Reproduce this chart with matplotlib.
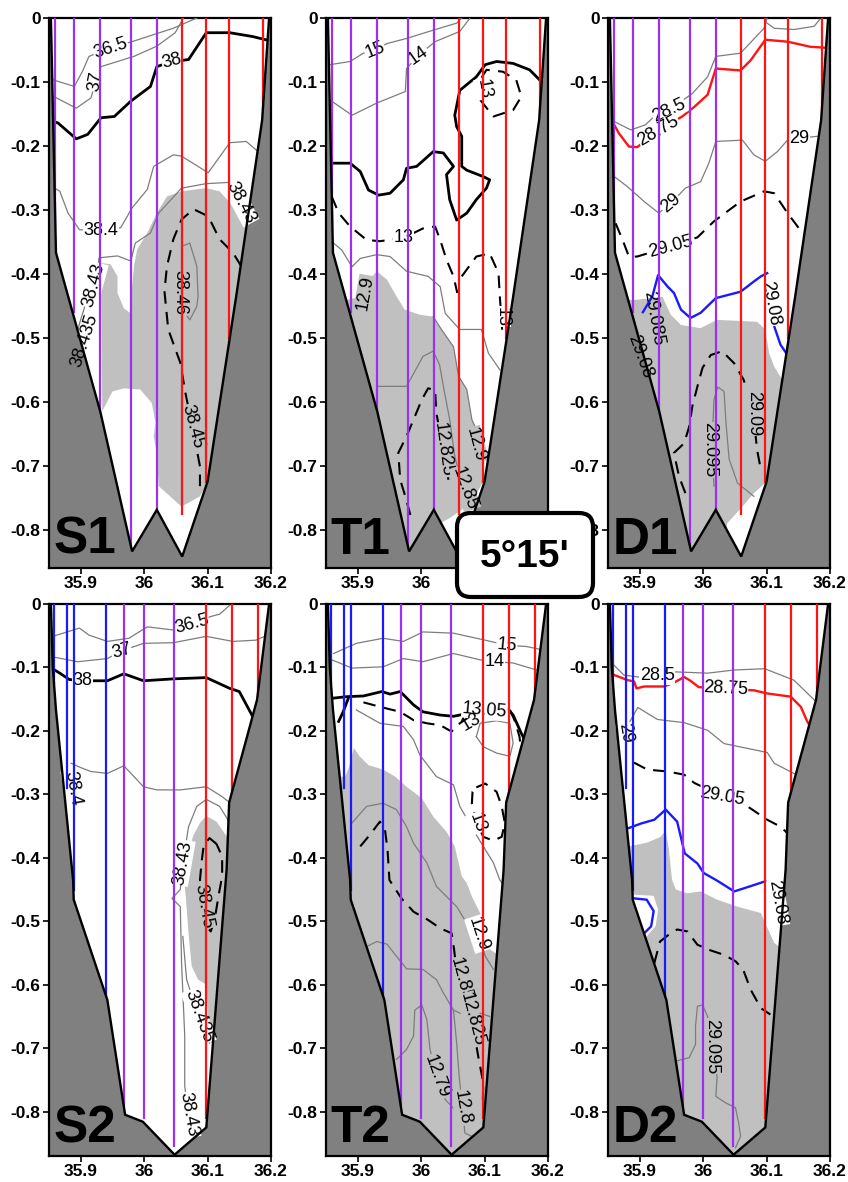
import matplotlib
matplotlib.use("Agg")
import matplotlib.pyplot as plt
from matplotlib.patches import Polygon, FancyBboxPatch
from matplotlib.transforms import IdentityTransform

plt.rcParams['font.family'] = ['Liberation Sans', 'DejaVu Sans']

DARK = '#808080'
LIGHT = '#c0c0c0'
COLS = {'purple': '#9b30f0', 'red': '#ff1414', 'blue': '#1a1aff'}

# ---------------- bathymetry (lon, depth km) ----------------
wall_1 = [(35.853, 0.0), (35.861, -0.367), (35.931, -0.616), (35.981, -0.834), (36.020, -0.769),
          (36.060, -0.842), (36.100, -0.725), (36.145, -0.436), (36.186, -0.160), (36.197, 0.0)]
wall_2 = [(35.853, 0.0), (35.856, -0.100), (35.861, -0.167), (35.888, -0.435), (35.889, -0.466),
          (35.942, -0.624), (35.970, -0.805), (35.998, -0.816), (36.048, -0.868), (36.098, -0.825),
          (36.130, -0.419), (36.134, -0.313), (36.178, -0.151), (36.197, 0.0)]

# ---------------- stations ----------------
stn1_x = [35.860, 35.890, 35.931, 35.979, 36.020, 36.059, 36.098, 36.133, 36.188]
stn1_bot = [-0.33, -0.46, -0.615, -0.834, -0.77, -0.775, -0.725, -0.50, -0.15]
stn1_col = ['purple'] * 5 + ['red'] * 4
stn2_x = [35.858, 35.879, 35.889, 35.940, 35.969, 36.000, 36.047, 36.098, 36.138, 36.180]
stn2_bot = [-0.125, -0.29, -0.45, -0.62, -0.79, -0.81, -0.855, -0.81, -0.31, -0.15]
stn2_col = ['blue'] * 4 + ['purple'] * 3 + ['red'] * 3

# ---------------- S1 salinity ----------------
s1_365 = [(35.854, -0.096), (35.890, -0.107), (35.903, -0.083), (35.913, -0.060), (35.947, -0.047),
          (35.984, -0.036), (36.046, -0.016), (36.083, 0.0)]
s1_37 = [(35.856, -0.122), (35.893, -0.141), (35.916, -0.125), (35.924, -0.099), (35.932, -0.076),
         (35.984, -0.060), (36.020, -0.044), (36.049, -0.023), (36.062, 0.0)]
s1_38 = [(35.854, -0.161), (35.864, -0.164), (35.893, -0.189), (35.911, -0.182), (35.932, -0.156),
         (35.953, -0.154), (35.979, -0.130), (36.010, -0.107), (36.020, -0.076), (36.044, -0.068),
         (36.070, -0.065), (36.098, -0.023), (36.135, -0.023), (36.171, -0.029), (36.200, -0.036)]
s1_384 = [(35.859, -0.266), (35.867, -0.271), (35.880, -0.305), (35.898, -0.331), (35.932, -0.333),
          (35.963, -0.328), (35.981, -0.297), (36.005, -0.268), (36.015, -0.232), (36.046, -0.214),
          (36.059, -0.216), (36.101, -0.242), (36.135, -0.195), (36.161, -0.193), (36.182, -0.211)]
s1_3843 = [(35.895, -0.488), (35.911, -0.436), (35.924, -0.409), (35.929, -0.375), (35.958, -0.372),
           (35.979, -0.380), (35.986, -0.352), (36.010, -0.336), (36.023, -0.305), (36.059, -0.266),
           (36.098, -0.259), (36.135, -0.257), (36.156, -0.294), (36.171, -0.326)]
s1_3845 = [(36.153, -0.388), (36.140, -0.367), (36.119, -0.346), (36.101, -0.310), (36.078, -0.299),
           (36.059, -0.315), (36.046, -0.346), (36.036, -0.388), (36.032, -0.427), (36.038, -0.487),
           (36.057, -0.539), (36.065, -0.586), (36.076, -0.639), (36.088, -0.701), (36.088, -0.732)]
s1_3846 = [(36.059, -0.357), (36.072, -0.352), (36.083, -0.388), (36.085, -0.435), (36.083, -0.451),
           (36.072, -0.472), (36.064, -0.461), (36.061, -0.425), (36.059, -0.398), (36.059, -0.357)]
s1_gray = [(35.932, -0.383), (35.947, -0.385), (35.958, -0.404), (35.958, -0.430), (35.968, -0.454),
           (35.979, -0.462), (35.981, -0.420), (35.984, -0.388), (35.989, -0.362), (36.005, -0.336),
           (36.020, -0.305), (36.036, -0.279), (36.059, -0.271), (36.098, -0.266), (36.119, -0.271),
           (36.140, -0.294), (36.163, -0.331), (36.25, -0.331), (36.25, -0.72), (36.101, -0.724),
           (36.088, -0.748), (36.059, -0.764), (36.041, -0.748), (36.023, -0.732), (36.020, -0.680),
           (36.015, -0.654), (36.018, -0.633), (36.012, -0.602), (35.994, -0.581), (35.968, -0.579),
           (35.950, -0.584), (35.934, -0.615)]
s1_labels = [("36.5", 35.947, -0.047, 18, 'w'), ("37", 35.924, -0.099, 80, 'w'),
             ("38", 36.044, -0.068, 15, 'w'), ("38.4", 35.932, -0.333, 0, 'w'),
             ("38.43", 36.152, -0.289, -62, 'w'), ("38.43", 35.921, -0.418, 75, 'w'),
             ("38.435", 35.906, -0.505, 72, 'none'), ("38.46", 36.057, -0.430, -90, 'g'),
             ("38.45", 36.076, -0.639, -75, 'g')]

# ---------------- T1 temperature ----------------
t1_15 = [(35.856, -0.073), (35.888, -0.068), (35.909, -0.055), (35.927, -0.050), (35.946, -0.040),
         (35.977, -0.032), (36.019, -0.019), (36.056, -0.008), (36.064, 0.0)]
t1_14 = [(35.856, -0.128), (35.891, -0.152), (35.930, -0.133), (35.975, -0.115), (35.977, -0.079),
         (35.996, -0.058), (36.022, -0.037), (36.061, -0.021), (36.077, 0.0)]
t1_1305 = [(35.856, -0.227), (35.888, -0.227), (35.904, -0.240), (35.917, -0.269), (35.933, -0.277),
           (35.951, -0.274), (35.972, -0.253), (35.977, -0.235), (35.993, -0.232), (36.019, -0.209),
           (36.035, -0.211), (36.051, -0.232), (36.040, -0.245), (36.045, -0.284), (36.056, -0.316),
           (36.072, -0.305), (36.087, -0.284), (36.103, -0.266), (36.108, -0.253), (36.098, -0.248),
           (36.072, -0.238), (36.064, -0.232), (36.064, -0.185), (36.056, -0.170), (36.053, -0.152),
           (36.061, -0.113), (36.087, -0.092), (36.101, -0.073), (36.119, -0.068), (36.145, -0.071),
           (36.171, -0.081), (36.187, -0.097), (36.192, -0.107)]
t1_13a = [(36.093, -0.128), (36.114, -0.154), (36.145, -0.144), (36.158, -0.123), (36.150, -0.097),
          (36.129, -0.084), (36.103, -0.081), (36.093, -0.097), (36.093, -0.128)]
t1_13b = [(35.859, -0.279), (35.870, -0.305), (35.888, -0.326), (35.914, -0.347), (35.935, -0.349),
          (35.972, -0.344), (36.003, -0.329), (36.022, -0.326), (36.030, -0.347), (36.040, -0.378),
          (36.051, -0.404), (36.057, -0.430)]
t1_13c = [(36.064, -0.404), (36.087, -0.373), (36.108, -0.368), (36.122, -0.399), (36.124, -0.435),
          (36.126, -0.462), (36.128, -0.493)]
t1_129 = [(35.862, -0.352), (35.875, -0.363), (35.891, -0.389), (35.904, -0.376), (35.930, -0.370),
          (35.951, -0.373), (35.977, -0.396), (36.011, -0.404), (36.030, -0.420), (36.038, -0.462),
          (36.061, -0.487), (36.095, -0.487), (36.106, -0.524), (36.124, -0.550)]
t1_129b = [(36.019, -0.467), (36.032, -0.487), (36.051, -0.514), (36.059, -0.560), (36.072, -0.581),
           (36.080, -0.628), (36.096, -0.664), (36.099, -0.722)]
t1_1285 = [(35.930, -0.576), (35.977, -0.576), (36.003, -0.529), (36.019, -0.521), (36.029, -0.542),
           (36.036, -0.581), (36.045, -0.628), (36.053, -0.685), (36.064, -0.727)]
t1_12825 = [(35.983, -0.777), (35.975, -0.748), (35.967, -0.722), (35.964, -0.680), (35.977, -0.654),
            (35.988, -0.628), (36.001, -0.597), (36.011, -0.579), (36.022, -0.582), (36.024, -0.618),
            (36.035, -0.675), (36.043, -0.722)]
t1_gray = [(35.84, -0.45), (35.909, -0.435), (35.919, -0.409), (35.930, -0.396), (35.946, -0.409),
           (35.961, -0.435), (35.974, -0.456), (35.998, -0.464), (36.019, -0.467), (36.032, -0.487),
           (36.051, -0.514), (36.059, -0.560), (36.072, -0.581), (36.080, -0.628), (36.096, -0.664),
           (36.099, -0.722), (36.088, -0.743), (36.064, -0.769), (36.045, -0.782), (36.030, -0.790),
           (36.02, -0.95), (35.84, -0.95)]
t1_labels = [("15", 35.927, -0.050, 22, 'w'), ("14", 35.996, -0.058, 35, 'w'),
             ("13", 36.099, -0.111, -80, 'w'), ("13", 35.972, -0.344, 0, 'w'),
             ("13", 36.127, -0.467, -90, 'w'), ("12.9", 35.912, -0.430, 80, 'g'),
             ("12.825", 36.035, -0.675, -82, 'g'), ("12.9", 36.086, -0.667, -75, 'g'),
             ("12.85", 36.069, -0.735, -70, 'g')]

# ---------------- D1 density ----------------
d1_top = [(36.098, -0.006), (36.112, -0.016), (36.143, -0.018), (36.175, -0.013), (36.184, -0.002)]
d1_285 = [(35.854, -0.159), (35.886, -0.175), (35.909, -0.167), (35.925, -0.152), (35.946, -0.144),
          (35.983, -0.118), (36.007, -0.092), (36.020, -0.060), (36.059, -0.055), (36.096, -0.016),
          (36.101, 0.0)]
d1_2875 = [(35.857, -0.162), (35.867, -0.180), (35.883, -0.201), (35.896, -0.202), (35.930, -0.175),
           (35.967, -0.154), (35.986, -0.139), (36.007, -0.120), (36.020, -0.079), (36.059, -0.082),
           (36.075, -0.066), (36.098, -0.034), (36.133, -0.037), (36.169, -0.045), (36.201, -0.047)]
d1_29 = [(35.860, -0.248), (35.881, -0.264), (35.907, -0.287), (35.930, -0.305), (35.949, -0.290),
         (35.972, -0.266), (35.996, -0.256), (36.009, -0.227), (36.020, -0.193), (36.062, -0.191),
         (36.080, -0.214), (36.098, -0.224), (36.117, -0.209), (36.133, -0.191), (36.151, -0.188),
         (36.180, -0.185)]
d1_2905 = [(35.862, -0.321), (35.873, -0.347), (35.883, -0.373), (35.896, -0.373), (35.949, -0.357),
           (35.991, -0.343), (36.017, -0.318), (36.059, -0.287), (36.096, -0.271), (36.112, -0.274),
           (36.133, -0.305), (36.161, -0.342), (36.185, -0.357)]
d1_2908 = [(35.905, -0.460), (35.920, -0.435), (35.929, -0.402), (35.944, -0.420), (35.954, -0.430),
           (35.965, -0.456), (35.980, -0.469), (35.996, -0.461), (36.020, -0.438), (36.059, -0.428),
           (36.080, -0.412), (36.091, -0.404), (36.101, -0.399)]
d1_2908b = [(36.112, -0.482), (36.122, -0.511), (36.133, -0.527)]
d1_2909 = [(35.972, -0.743), (35.962, -0.717), (35.954, -0.680), (35.970, -0.665), (35.978, -0.639),
           (35.983, -0.607), (35.991, -0.576), (35.999, -0.547), (36.012, -0.527), (36.030, -0.521),
           (36.049, -0.540), (36.064, -0.566), (36.079, -0.618), (36.085, -0.675), (36.090, -0.701)]
d1_29095 = [(36.017, -0.732), (36.014, -0.670), (36.017, -0.597), (36.023, -0.577), (36.033, -0.584),
            (36.036, -0.633), (36.041, -0.690), (36.054, -0.727), (36.080, -0.748)]
d1_gray = [(35.80, -0.441), (35.891, -0.441), (35.936, -0.436), (35.949, -0.464), (35.965, -0.480),
           (35.996, -0.485), (36.022, -0.472), (36.085, -0.475), (36.098, -0.487), (36.104, -0.524),
           (36.112, -0.545), (36.125, -0.566), (36.25, -0.566), (36.25, -0.72), (36.098, -0.727),
           (36.080, -0.743), (36.062, -0.764), (36.038, -0.790), (36.02, -0.95), (35.80, -0.95)]
d1_labels = [("28.5", 35.946, -0.144, 25, 'w'), ("28.75", 35.930, -0.177, 30, 'w'),
             ("29", 35.949, -0.290, 40, 'w'), ("29", 36.151, -0.188, 0, 'w'),
             ("29.05", 35.949, -0.357, 15, 'w'), ("29.08", 36.106, -0.446, -80, 'w'),
             ("29.085", 35.921, -0.470, -80, 'none'), ("29.08", 35.900, -0.530, -70, 'none'),
             ("29.09", 36.079, -0.618, -90, 'g'), ("29.095", 36.011, -0.675, -90, 'g')]

# ---------------- S2 salinity ----------------
s2_365 = [(35.856, -0.051), (35.898, -0.038), (35.913, -0.049), (35.942, -0.059), (35.976, -0.054),
          (36.005, -0.036), (36.046, -0.041), (36.075, -0.032), (36.104, -0.020), (36.119, -0.016),
          (36.135, -0.002)]
s2_37 = [(35.854, -0.083), (35.895, -0.091), (35.942, -0.086), (35.964, -0.074), (35.999, -0.062),
         (36.046, -0.061), (36.098, -0.051), (36.140, -0.059), (36.176, -0.057), (36.195, -0.049)]
s2_38 = [(35.854, -0.101), (35.867, -0.109), (35.882, -0.119), (35.903, -0.121), (35.926, -0.121),
         (35.942, -0.121), (35.968, -0.110), (35.999, -0.121), (36.046, -0.118), (36.098, -0.116),
         (36.135, -0.133), (36.150, -0.138), (36.171, -0.177), (36.179, -0.180)]
s2_384 = [(35.885, -0.251), (35.898, -0.257), (35.916, -0.264), (35.942, -0.267), (35.968, -0.255),
          (35.999, -0.288), (36.020, -0.293), (36.057, -0.293), (36.098, -0.288), (36.122, -0.303),
          (36.140, -0.317)]
s2_3843 = [(36.140, -0.353), (36.119, -0.319), (36.098, -0.308), (36.083, -0.319), (36.070, -0.351),
           (36.061, -0.408), (36.057, -0.450), (36.044, -0.464), (36.057, -0.477), (36.059, -0.566),
           (36.064, -0.681), (36.064, -0.760), (36.070, -0.805), (36.083, -0.849)]
s2_38435 = [(36.061, -0.524), (36.067, -0.592), (36.086, -0.650), (36.103, -0.692)]
s2_3845 = [(36.114, -0.378), (36.103, -0.369), (36.094, -0.380), (36.091, -0.403), (36.088, -0.435),
           (36.092, -0.450), (36.094, -0.476), (36.098, -0.508), (36.105, -0.516), (36.111, -0.498),
           (36.118, -0.456), (36.123, -0.429), (36.123, -0.398), (36.114, -0.378)]
s2_gray = [(36.064, -0.445), (36.070, -0.393), (36.077, -0.366), (36.088, -0.345), (36.098, -0.334),
           (36.114, -0.343), (36.130, -0.366), (36.138, -0.393), (36.25, -0.393), (36.25, -0.70),
           (36.105, -0.692), (36.101, -0.650), (36.098, -0.600), (36.085, -0.592), (36.075, -0.571),
           (36.070, -0.519), (36.066, -0.466)]
s2_labels = [("36.5", 36.075, -0.032, 15, 'w'), ("37", 35.964, -0.074, 15, 'w'),
             ("38", 35.903, -0.121, 0, 'w'), ("38.4", 35.887, -0.290, -80, 'w'),
             ("38.43", 36.061, -0.408, 80, 'w'), ("38.45", 36.094, -0.476, -80, 'g'),
             ("38.435", 36.086, -0.650, -70, 'w'), ("38.43", 36.070, -0.805, -80, 'w')]

# ---------------- T2 temperature ----------------
t2_15 = [(35.862, -0.078), (35.898, -0.062), (35.940, -0.054), (35.972, -0.059), (36.003, -0.044),
         (36.051, -0.046), (36.101, -0.057), (36.135, -0.065), (36.166, -0.067), (36.190, -0.072)]
t2_14 = [(35.859, -0.088), (35.891, -0.101), (35.940, -0.099), (35.972, -0.086), (36.003, -0.091),
         (36.051, -0.078), (36.093, -0.088), (36.116, -0.091), (36.145, -0.093), (36.182, -0.104)]
t2_1305 = [(35.856, -0.149), (35.883, -0.146), (35.909, -0.145), (35.938, -0.138), (35.951, -0.142),
           (35.967, -0.138), (35.988, -0.159), (36.003, -0.170), (36.030, -0.175), (36.051, -0.177),
           (36.095, -0.168), (36.135, -0.163), (36.145, -0.175), (36.158, -0.204), (36.166, -0.219)]
t2_1305b = [(35.885, -0.149), (35.877, -0.170), (35.870, -0.185)]
t2_13a = [(35.909, -0.155), (35.935, -0.162), (35.967, -0.170), (35.988, -0.183), (36.009, -0.188),
          (36.030, -0.191), (36.048, -0.201), (36.061, -0.188), (36.080, -0.175)]
t2_13b = [(36.140, -0.167), (36.148, -0.185), (36.155, -0.209), (36.157, -0.225)]
t2_13c = [(36.087, -0.289), (36.101, -0.283), (36.119, -0.296), (36.127, -0.319), (36.132, -0.345),
          (36.127, -0.367), (36.114, -0.373), (36.098, -0.367), (36.088, -0.345), (36.080, -0.314),
          (36.081, -0.296), (36.087, -0.289)]
t2_12825 = [(35.904, -0.382), (35.919, -0.364), (35.935, -0.343), (35.943, -0.356), (35.947, -0.387),
            (35.950, -0.435), (35.969, -0.464), (35.988, -0.485), (36.011, -0.498), (36.030, -0.511),
            (36.048, -0.519), (36.052, -0.545), (36.055, -0.571), (36.059, -0.598), (36.080, -0.655),
            (36.090, -0.713), (36.098, -0.755), (36.097, -0.792)]
t2_1295 = [(35.898, -0.167), (35.935, -0.188), (35.972, -0.193), (35.988, -0.214), (35.998, -0.238),
           (36.024, -0.272), (36.051, -0.285), (36.061, -0.319), (36.082, -0.356), (36.098, -0.382),
           (36.114, -0.408), (36.124, -0.435), (36.128, -0.440)]
t2_129 = [(35.891, -0.345), (35.914, -0.319), (35.940, -0.314), (35.961, -0.324), (35.977, -0.351),
          (35.988, -0.377), (36.009, -0.408), (36.024, -0.445), (36.040, -0.461), (36.056, -0.477),
          (36.072, -0.503), (36.087, -0.513), (36.090, -0.520), (36.101, -0.555), (36.114, -0.576)]
t2_loop = [(36.087, -0.209), (36.093, -0.188), (36.119, -0.184), (36.140, -0.188), (36.145, -0.219),
           (36.140, -0.240), (36.119, -0.235), (36.098, -0.225), (36.087, -0.209)]
t2_1285 = [(35.914, -0.540), (35.930, -0.532), (35.946, -0.536), (35.961, -0.555), (35.977, -0.575),
           (36.003, -0.576), (36.024, -0.592), (36.035, -0.613), (36.051, -0.640), (36.072, -0.650),
           (36.093, -0.645), (36.108, -0.650)]
t2_1279 = [(35.961, -0.718), (35.977, -0.702), (35.988, -0.681), (35.990, -0.640), (36.001, -0.632),
           (36.009, -0.655), (36.014, -0.702), (36.024, -0.745), (36.038, -0.781), (36.053, -0.797)]
t2_128 = [(36.051, -0.640), (36.056, -0.692), (36.060, -0.745), (36.065, -0.794), (36.069, -0.834),
          (36.080, -0.839)]
t2_gray = [(35.80, -0.272), (35.880, -0.272), (35.885, -0.261), (35.894, -0.227), (35.903, -0.240),
           (35.917, -0.254), (35.940, -0.261), (35.959, -0.272), (35.977, -0.288), (36.001, -0.306),
           (36.019, -0.335), (36.040, -0.359), (36.053, -0.382), (36.064, -0.429), (36.072, -0.440),
           (36.080, -0.461), (36.093, -0.487), (36.101, -0.524), (36.109, -0.545), (36.127, -0.556),
           (36.25, -0.556), (36.25, -0.95), (35.80, -0.95)]
t2_labels = [("15", 36.135, -0.065, -5, 'w'), ("14", 36.116, -0.091, 0, 'w'),
             ("13.05", 36.100, -0.168, -5, 'w'), ("13", 36.078, -0.186, 30, 'none'),
             ("13", 36.088, -0.345, -70, 'w'), ("12.9", 36.090, -0.520, -72, 'w'),
             ("12.85", 36.062, -0.592, -75, 'g'), ("12.825", 36.080, -0.655, -75, 'g'),
             ("12.79", 36.024, -0.745, -70, 'g'), ("12.8", 36.065, -0.794, -80, 'g')]

# ---------------- D2 density ----------------
d2_285 = [(35.857, -0.094), (35.875, -0.112), (35.897, -0.115), (35.928, -0.113), (35.957, -0.107),
          (36.007, -0.109), (36.049, -0.104), (36.097, -0.102), (36.143, -0.120), (36.175, -0.151),
          (36.182, -0.159)]
d2_2875 = [(35.860, -0.112), (35.881, -0.120), (35.891, -0.122), (35.895, -0.133), (35.907, -0.130),
           (35.938, -0.130), (35.954, -0.124), (35.970, -0.115), (35.980, -0.121), (35.993, -0.131),
           (36.035, -0.134), (36.080, -0.136), (36.101, -0.141), (36.138, -0.146), (36.154, -0.162),
           (36.164, -0.185), (36.169, -0.193)]
d2_29 = [(35.883, -0.188), (35.897, -0.163), (35.928, -0.182), (35.970, -0.187), (36.007, -0.199),
         (36.033, -0.220), (36.101, -0.234), (36.112, -0.251), (36.143, -0.267), (36.154, -0.272)]
d2_2905 = [(35.891, -0.250), (35.912, -0.261), (35.944, -0.264), (35.970, -0.269), (35.986, -0.282),
           (36.030, -0.303), (36.070, -0.319), (36.101, -0.340), (36.122, -0.351), (36.138, -0.366)]
d2_2908 = [(35.883, -0.353), (35.902, -0.346), (35.923, -0.340), (35.941, -0.324), (35.959, -0.343),
           (35.971, -0.393), (35.991, -0.409), (36.001, -0.424), (36.022, -0.436), (36.049, -0.453),
           (36.080, -0.443), (36.098, -0.437), (36.112, -0.446)]
d2_2908b = [(35.891, -0.464), (35.911, -0.466), (35.922, -0.484), (35.918, -0.508), (35.907, -0.519)]
d2_2909 = [(35.923, -0.566), (35.932, -0.532), (35.946, -0.521), (35.959, -0.513), (35.975, -0.516),
           (35.991, -0.537), (36.009, -0.545), (36.033, -0.553), (36.051, -0.563), (36.063, -0.576),
           (36.075, -0.608), (36.091, -0.637), (36.106, -0.647)]
d2_29095 = [(35.959, -0.720), (35.978, -0.715), (35.988, -0.694), (35.988, -0.665), (35.991, -0.634),
            (35.999, -0.632), (36.007, -0.650), (36.014, -0.697), (36.022, -0.745), (36.020, -0.776),
            (36.035, -0.786), (36.051, -0.794), (36.056, -0.818), (36.059, -0.839), (36.051, -0.857)]
d2_gray = [(35.80, -0.382), (35.883, -0.382), (35.912, -0.376), (35.933, -0.367), (35.941, -0.357),
           (35.946, -0.387), (35.951, -0.435), (35.957, -0.450), (35.975, -0.456), (35.996, -0.453),
           (36.022, -0.466), (36.054, -0.477), (36.091, -0.487), (36.098, -0.503), (36.112, -0.534),
           (36.122, -0.542), (36.25, -0.542), (36.25, -0.95), (35.80, -0.95), (35.80, -0.53),
           (35.909, -0.526), (35.925, -0.508), (35.929, -0.482), (35.922, -0.460), (35.888, -0.458),
           (35.80, -0.458)]
d2_labels = [("28.5", 35.928, -0.113, 0, 'w'), ("28.75", 36.035, -0.134, -3, 'w'),
             ("29", 35.878, -0.204, -80, 'w'), ("29.05", 36.030, -0.303, -10, 'w'),
             ("29.08", 36.117, -0.471, -80, 'w'), ("29.095", 36.014, -0.697, -90, 'g')]

x_ticks = [35.9, 36.0, 36.1, 36.2]
x_labels = ["35.9", "36", "36.1", "36.2"]
y_ticks = [0, -0.1, -0.2, -0.3, -0.4, -0.5, -0.6, -0.7, -0.8]
y_labels = ["0", "-0.1", "-0.2", "-0.3", "-0.4", "-0.5", "-0.6", "-0.7", "-0.8"]

STYLE = {
    'thin': dict(color='#7d7d7d', lw=0.9),
    'thick': dict(color='black', lw=2.0),
    'dash': dict(color='black', lw=1.5, dashes=(6, 4)),
    'red': dict(color=COLS['red'], lw=1.7),
    'blue': dict(color=COLS['blue'], lw=1.7),
}

panels = [
    dict(tag='S1', wall=wall_1, ylim=-0.86, gray=s1_gray, st=(stn1_x, stn1_bot, stn1_col),
         lines=[(s1_365, 'thin'), (s1_37, 'thin'), (s1_384, 'thin'), (s1_3843, 'thin'),
                (s1_3846, 'thin'), (s1_38, 'thick'), (s1_3845, 'dash')], labels=s1_labels),
    dict(tag='T1', wall=wall_1, ylim=-0.86, gray=t1_gray, st=(stn1_x, stn1_bot, stn1_col),
         lines=[(t1_15, 'thin'), (t1_14, 'thin'), (t1_129, 'thin'), (t1_129b, 'thin'),
                (t1_1285, 'thin'), (t1_1305, 'thick'), (t1_13a, 'dash'), (t1_13b, 'dash'),
                (t1_13c, 'dash'), (t1_12825, 'dash')], labels=t1_labels),
    dict(tag='D1', wall=wall_1, ylim=-0.86, gray=d1_gray, st=(stn1_x, stn1_bot, stn1_col),
         lines=[(d1_top, 'thin'), (d1_285, 'thin'), (d1_29, 'thin'), (d1_29095, 'thin'),
                (d1_2875, 'red'), (d1_2905, 'dash'), (d1_2909, 'dash'), (d1_2908, 'blue'),
                (d1_2908b, 'blue')], labels=d1_labels),
    dict(tag='S2', wall=wall_2, ylim=-0.87, gray=s2_gray, st=(stn2_x, stn2_bot, stn2_col),
         lines=[(s2_365, 'thin'), (s2_37, 'thin'), (s2_384, 'thin'), (s2_3843, 'thin'),
                (s2_38435, 'thin'), (s2_38, 'thick'), (s2_3845, 'dash')], labels=s2_labels),
    dict(tag='T2', wall=wall_2, ylim=-0.87, gray=t2_gray, st=(stn2_x, stn2_bot, stn2_col),
         lines=[(t2_15, 'thin'), (t2_14, 'thin'), (t2_1295, 'thin'), (t2_129, 'thin'),
                (t2_loop, 'thin'), (t2_1285, 'thin'), (t2_1279, 'thin'), (t2_128, 'thin'),
                (t2_1305, 'thick'), (t2_1305b, 'thick'), (t2_13a, 'dash'), (t2_13b, 'dash'),
                (t2_13c, 'dash'), (t2_12825, 'dash')], labels=t2_labels),
    dict(tag='D2', wall=wall_2, ylim=-0.87, gray=d2_gray, st=(stn2_x, stn2_bot, stn2_col),
         lines=[(d2_285, 'thin'), (d2_29, 'thin'), (d2_29095, 'thin'), (d2_2875, 'red'),
                (d2_2905, 'dash'), (d2_2909, 'dash'), (d2_2908, 'blue'), (d2_2908b, 'blue')],
         labels=d2_labels),
]

W, H = 848, 1182
fig = plt.figure(figsize=(W / 100, H / 100), dpi=100)
lefts = [49, 326, 608]
rows = [(18, 568), (604, 1156)]

for i, p in enumerate(panels):
    r, c = divmod(i, 3)
    top, bot = rows[r]
    ax = fig.add_axes([lefts[c] / W, 1 - bot / H, 222 / W, (bot - top) / H])
    ax.set_xlim(35.85, 36.2)
    ax.set_ylim(p['ylim'], 0)
    ax.set_facecolor(DARK)

    water = Polygon(p['wall'], closed=True, fc='white', ec='none', zorder=1)
    ax.add_patch(water)
    g = Polygon(p['gray'], closed=True, fc=LIGHT, ec='none', zorder=2)
    ax.add_patch(g)
    g.set_clip_path(water)

    for pts, sty in p['lines']:
        xs = [q[0] for q in pts]
        ys = [q[1] for q in pts]
        ln, = ax.plot(xs, ys, zorder=3 if sty == 'thin' else 4, solid_joinstyle='round',
                      **STYLE[sty])
        ln.set_clip_path(water)

    for txt, lx, ly, rot, bg in p['labels']:
        fc = {'w': 'white', 'g': LIGHT}.get(bg, 'none')
        ax.text(lx, ly, txt, rotation=rot, ha='center', va='center', fontsize=13,
                rotation_mode='anchor', zorder=4.5,
                bbox=dict(boxstyle='square,pad=0.03', fc=fc, ec='none'))

    sx, sb, sc = p['st']
    for x0, b0, cc in zip(sx, sb, sc):
        ln, = ax.plot([x0, x0], [0, b0], color=COLS[cc], lw=1.6, zorder=5)
        ln.set_clip_path(water)

    outline = Polygon(p['wall'], closed=False, fill=False, ec='black', lw=1.7, zorder=6)
    ax.add_patch(outline)

    ax.text(35.857, p['ylim'] + 0.022, p['tag'], fontsize=37, fontweight='bold',
            ha='left', va='baseline', zorder=7)

    ax.set_xticks(x_ticks)
    ax.set_xticklabels(x_labels, fontsize=12.5, fontweight='bold')
    ax.set_yticks(y_ticks)
    ax.set_yticklabels(y_labels, fontsize=12.5, fontweight='bold')
    ax.tick_params(direction='out', length=4, width=1.2, pad=2)
    for s in ax.spines.values():
        s.set_linewidth(1.6)

# 5°15' box
r = 14
box = FancyBboxPatch((457 + r, H - 597 + r), 136 - 2 * r, 84 - 2 * r,
                     boxstyle=f"round,pad={r}", fc='white', ec='black', lw=3,
                     transform=IdentityTransform(), zorder=10)
fig.add_artist(box)
fig.text(525 / W, 1 - 557 / H, "5°15'", fontsize=28, fontweight='bold',
         ha='center', va='center', zorder=11)

fig.savefig("out.png", dpi=100)
